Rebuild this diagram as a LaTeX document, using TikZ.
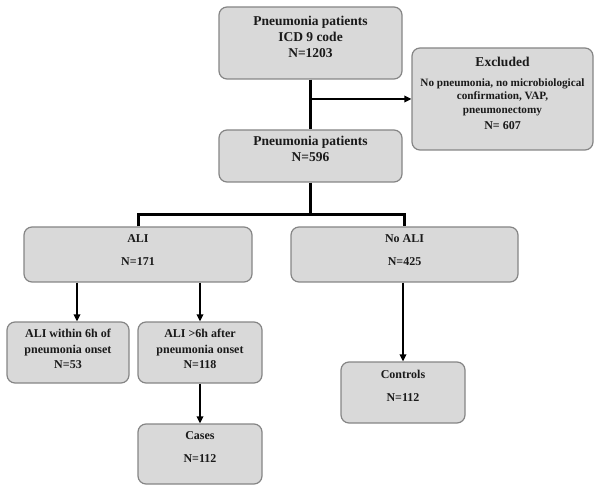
\documentclass[tikz,border=0pt]{standalone}
\usepackage{fontspec}
\setmainfont{Liberation Serif}
\usetikzlibrary{arrows.meta}
\definecolor{boxfill}{HTML}{D9D9D9}
\definecolor{boxline}{HTML}{858585}
\definecolor{ink}{HTML}{1A1A1A}
\tikzset{
  box/.style={draw=boxline, fill=boxfill, rounded corners=8pt, line width=1.2pt, inner sep=0pt},
  big/.style={text=ink, align=center, inner sep=0pt, font=\bfseries\fontsize{13.5}{16}\selectfont},
  bigwide/.style={text=ink, align=center, inner sep=0pt, font=\bfseries\fontsize{13.5}{22}\selectfont},
  small/.style={text=ink, align=center, inner sep=0pt, font=\bfseries\fontsize{12}{15.5}\selectfont},
  smallwide/.style={text=ink, align=center, inner sep=0pt, font=\bfseries\fontsize{12}{23}\selectfont},
  tiny/.style={text=ink, align=center, inner sep=0pt, font=\bfseries\fontsize{11.2}{13.5}\selectfont},
  trunk/.style={draw=black, line width=3pt},
  arr/.style={draw=black, line width=2pt, -{Triangle[length=7pt,width=6.5pt]}},
}
\begin{document}
\begin{tikzpicture}[x=1pt,y=-1pt]
\useasboundingbox (0,0) rectangle (600,489);
% boxes
\node[box, minimum width=183pt, minimum height=72pt] (top) at (310.5,43) {};
\node[box, minimum width=181pt, minimum height=102pt] (excl) at (502.5,99) {};
\node[box, minimum width=183pt, minimum height=52pt] (p596) at (310.5,156) {};
\node[box, minimum width=228pt, minimum height=55pt] (ali) at (138,254.5) {};
\node[box, minimum width=227pt, minimum height=55pt] (noali) at (404.5,254.5) {};
\node[box, minimum width=122pt, minimum height=61pt] (within) at (68,352.5) {};
\node[box, minimum width=124pt, minimum height=61pt] (gt6) at (200,352.5) {};
\node[box, minimum width=124pt, minimum height=61pt] (controls) at (403,392.5) {};
\node[box, minimum width=124pt, minimum height=60pt] (cases) at (200,454) {};
% texts
\node[big] (topt) at (310.5,37) {Pneumonia patients\\ICD 9 code\\N=1203};
\node[big] (exclt1) at (502.5,62) {Excluded};
\node[tiny] (exclt2) at (502.5,97) {No pneumonia, no microbiological\\confirmation, VAP,\\pneumonectomy};
\node[small] (exclt3) at (502.5,126) {N= 607};
\node[big] (p596t) at (310.5,149) {Pneumonia patients\\N=596};
\node[smallwide] (alit) at (138,250) {ALI\\N=171};
\node[smallwide] (noalit) at (404.5,250) {No ALI\\N=425};
\node[small] (withint) at (68,349) {ALI within 6h of\\pneumonia onset\\N=53};
\node[small] (gt6t) at (200,349) {ALI \textgreater6h after\\pneumonia onset\\N=118};
\node[smallwide] (controlst) at (403,386) {Controls\\N=112};
\node[smallwide] (casest) at (200,447) {Cases\\N=112};
% connectors
\coordinate (bar) at (0,215);
\coordinate (c77) at (77,0);
\draw[trunk] (top.south) -- (p596.north);
\draw[arr] (top.south |- excl.west) -- (excl.west);
\draw[trunk] (p596.south) -- (p596.south |- bar);
\draw[trunk] (ali.north) -- (ali.north |- bar) -- (noali.north |- bar) -- (noali.north);
\draw[arr] (ali.south -| c77) -- (within.north -| c77);
\draw[arr] (ali.south -| gt6.north) -- (gt6.north);
\draw[arr] (noali.south -| controls.north) -- (controls.north);
\draw[arr] (gt6.south) -- (cases.north);
\end{tikzpicture}
\end{document}
